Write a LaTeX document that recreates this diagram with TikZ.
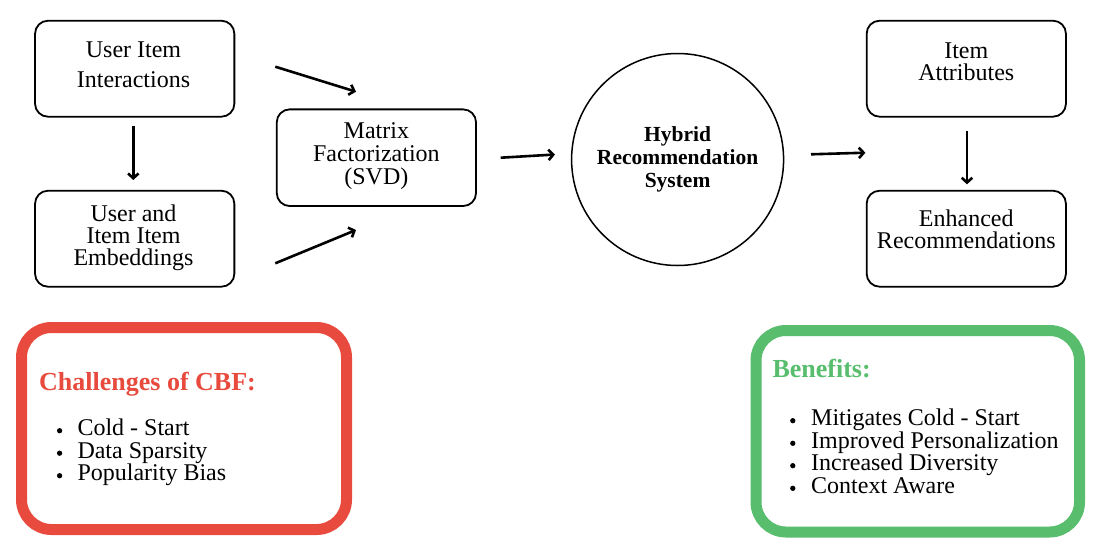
\documentclass[tikz,border=0pt]{standalone}
\usepackage{fontspec}
\setmainfont{Liberation Serif}
\usetikzlibrary{arrows.meta}
\definecolor{cbfred}{HTML}{E84A3E}
\definecolor{bengreen}{HTML}{58BD6D}
\begin{document}
\begin{tikzpicture}[x=1pt,y=-1pt,
  box/.style={draw, line width=1.8pt, rounded corners=13pt, minimum width=199.3pt, minimum height=96pt, inner sep=0pt, outer sep=0pt},
  lbl/.style={align=center, inner sep=0pt, anchor=base},
  arr/.style={line width=2.6pt, -{Straight Barb[length=4.8pt,width=10.5pt]}},
  frame/.style={draw, line width=11pt, rounded corners=30pt, inner sep=0pt, outer sep=0pt},
  ttl/.style={anchor=base west, font=\fontsize{26}{26}\selectfont\bfseries, inner sep=0pt},
  itm/.style={anchor=base west, font=\fontsize{24}{24}\selectfont, inner sep=0pt},
  dot/.style={circle, fill=black, inner sep=0pt, minimum size=5.3pt}]
\useasboundingbox (0,0) rectangle (1104,558);
\fill[white] (0,0) rectangle (1104,558);

% boxes
\node[box] (a) at (134.7,68.7) {};
\node[box] (b) at (134.7,238.7) {};
\node[box, minimum height=96.7pt] (c) at (376.4,157.7) {};
\node[box] (d) at (966.3,68.7) {};
\node[box] (e) at (966.3,238.7) {};
\node[draw, circle, line width=1.5pt, minimum size=212pt, inner sep=0pt, align=center,
      font=\fontsize{21.5}{23}\selectfont\bfseries] (h) at (677.6,159.5) {Hybrid\\Recommendation\\System};

% box texts (anchor base = baseline of last line)
\node[lbl, font=\fontsize{24}{30}\selectfont] (a-t) at (133.5,87.3) {User Item\\Interactions};
\node[lbl, font=\fontsize{24}{22.3}\selectfont] (b-t) at (133.5,265.7) {User and\\Item Item\\Embeddings};
\node[lbl, font=\fontsize{24}{23}\selectfont] (c-t) at (376.4,184.3) {Matrix\\Factorization\\(SVD)};
\node[lbl, font=\fontsize{24}{22.7}\selectfont] (d-t) at (966.3,80.7) {Item\\Attributes};
\node[lbl, font=\fontsize{24}{22.4}\selectfont] (e-t) at (966.3,248.5) {Enhanced\\Recommendations};

% connector end points
\coordinate (ac1) at (275.3,66.7);
\coordinate (ac2) at (356,91.7);
\coordinate (bc1) at (275.3,263.3);
\coordinate (bc2) at (356,230);
\coordinate (ch1) at (500.7,157.7);
\coordinate (ch2) at (555,154.5);
\coordinate (hd1) at (811,154.3);
\coordinate (hd2) at (865.4,152.7);

\draw[arr, shorten <=9.3pt, shorten >=10.7pt] ([xshift=-1.4pt]a.south) -- ([xshift=-1.4pt]b.north);
\draw[arr, shorten <=14.3pt, shorten >=6.4pt] ([xshift=0.7pt]d.south) -- ([xshift=0.7pt]e.north);
\draw[arr] (ac1) -- (ac2);
\draw[arr] (bc1) -- (bc2);
\draw[arr] (ch1) -- (ch2);
\draw[arr] (hd1) -- (hd2);

% challenge frame
\node[frame, draw=cbfred, minimum width=325pt, minimum height=202pt] (cbf) at (184,428.5) {};
\node[ttl, text=cbfred] (cbf-t) at (39,390) {Challenges of CBF:};
\node[dot] (cb1) at (59.6,430.7) {};
\node[dot] (cb2) at (59.6,453.2) {};
\node[dot] (cb3) at (59.6,475.7) {};
\node[itm] (ci1) at (77.3,435.7) {Cold - Start};
\node[itm] (ci2) at (77.3,458.2) {Data Sparsity};
\node[itm] (ci3) at (77.3,480.7) {Popularity Bias};

% benefits frame
\node[frame, draw=bengreen, minimum width=323.5pt, minimum height=201.5pt] (ben) at (917.75,431.25) {};
\node[ttl, text=bengreen] (ben-t) at (772.3,377.7) {Benefits:};
\node[dot] (bb1) at (792.8,420.7) {};
\node[dot] (bb2) at (792.8,443.3) {};
\node[dot] (bb3) at (792.8,465.7) {};
\node[dot] (bb4) at (792.8,488.3) {};
\node[itm] (bi1) at (811,425.7) {Mitigates Cold - Start};
\node[itm] (bi2) at (811,448.3) {Improved Personalization};
\node[itm] (bi3) at (811,470.7) {Increased Diversity};
\node[itm] (bi4) at (811,493.3) {Context Aware};
\end{tikzpicture}
\end{document}
